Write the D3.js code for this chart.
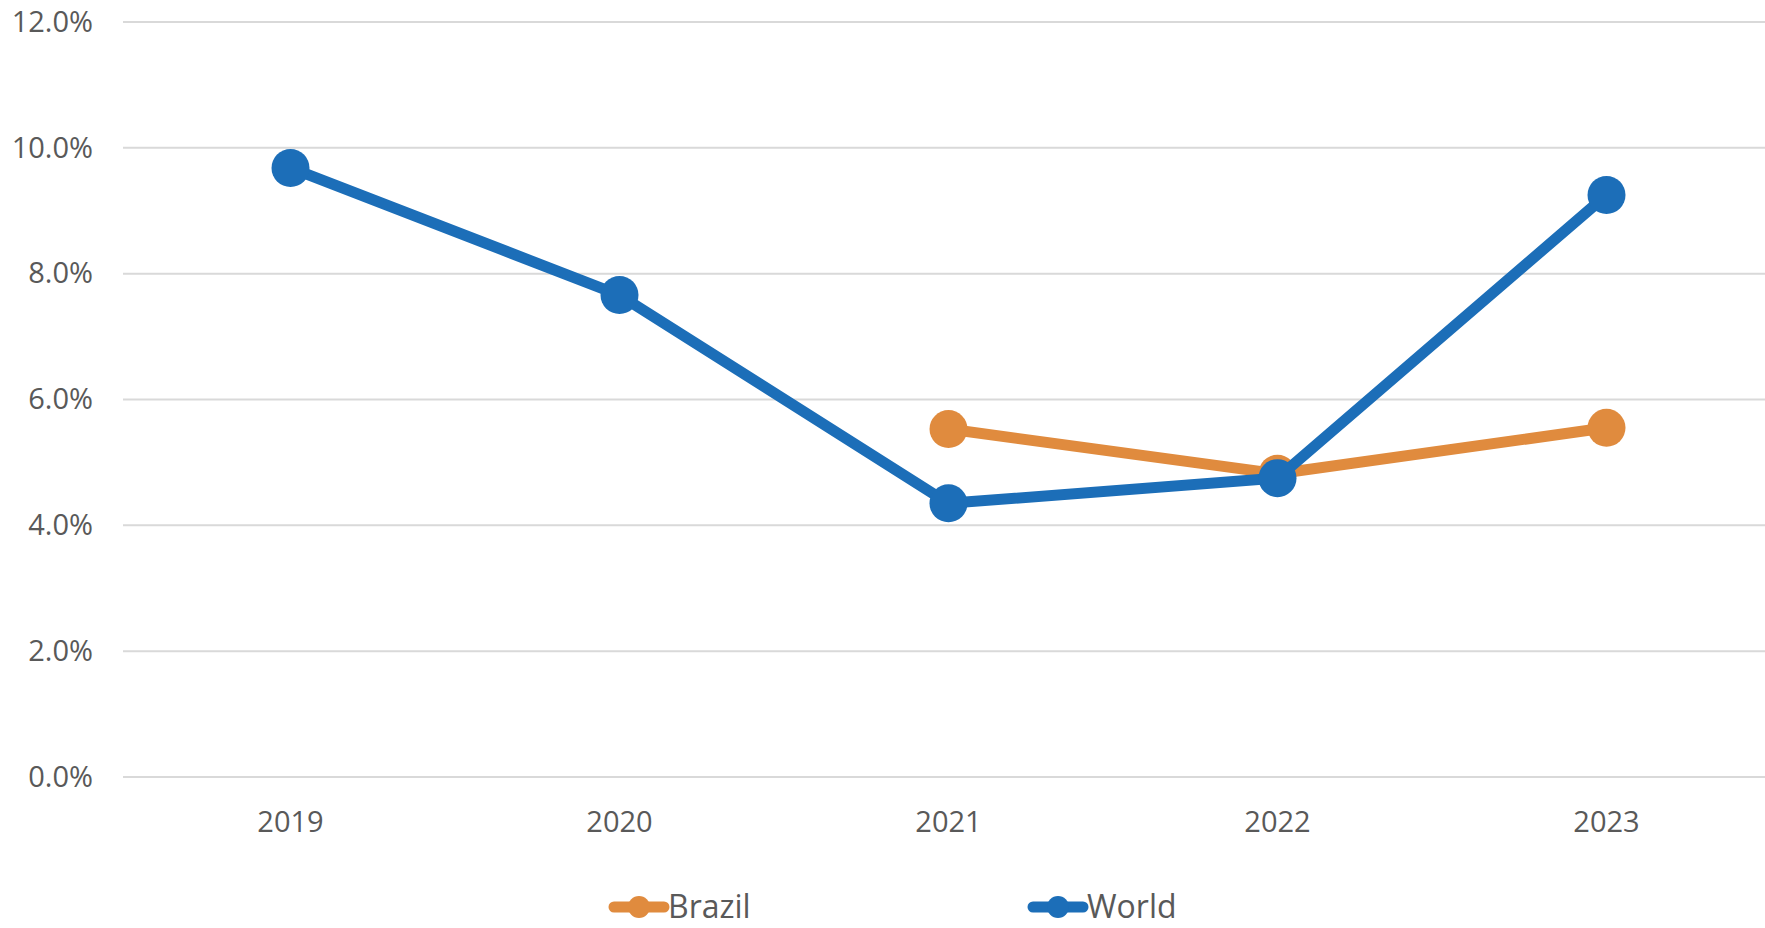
<!DOCTYPE html>
<html><head><meta charset="utf-8">
<script src="https://cdn.jsdelivr.net/npm/d3@7"></script>
<style>body{margin:0;background:#fff;}svg{display:block;}</style>
</head><body>
<script>
const years = ["2019","2020","2021","2022","2023"];
const worldValues = [9.68, 7.66, 4.35, 4.75, 9.25];
const brazilValues = [null, null, 5.53, 4.82, 5.55];
const yTicks = [0, 2, 4, 6, 8, 10, 12];
const seriesNames = ["Brazil", "World"];
const seriesColors = ["#e08b3e", "#1c6eb8"];

const W = 1765, H = 928;
const svg = d3.select("body").append("svg").attr("width", W).attr("height", H);
const font = "'Open Sans', sans-serif";
const textColor = "#595959";

const x = d3.scaleBand().domain(years).range([126, 1771]);
const y = d3.scaleLinear().domain([0, 12]).range([777, 22]);

// gridlines
svg.append("g").selectAll("line").data(yTicks).join("line")
  .attr("x1", 123).attr("x2", W)
  .attr("y1", d => y(d)).attr("y2", d => y(d))
  .attr("stroke", "#d9d9d9").attr("stroke-width", 2);

// y axis
const yAxis = svg.append("g").attr("transform", "translate(103,0)")
  .call(d3.axisLeft(y).tickValues(yTicks).tickSize(0).tickPadding(10).tickFormat(d => d3.format(".1f")(d) + "%"));
yAxis.select(".domain").remove();
yAxis.selectAll("text").attr("font-family", font).attr("font-size", 29).attr("fill", textColor);

// x axis
const xAxis = svg.append("g").attr("transform", "translate(0,801)")
  .call(d3.axisBottom(x).tickSize(0).tickPadding(10));
xAxis.select(".domain").remove();
xAxis.selectAll("text").attr("font-family", font).attr("font-size", 29).attr("fill", textColor);

const cx = d => x(d) + x.bandwidth() / 2;
const series = [
  {name: seriesNames[0], color: seriesColors[0], values: brazilValues},
  {name: seriesNames[1], color: seriesColors[1], values: worldValues}
];

const line = d3.line().defined(d => d.v != null).x(d => cx(d.year)).y(d => y(d.v));

series.forEach(s => {
  const pts = years.map((yr, i) => ({year: yr, v: s.values[i]}));
  svg.append("path").datum(pts).attr("d", line)
    .attr("fill", "none").attr("stroke", s.color).attr("stroke-width", 11)
    .attr("stroke-linejoin", "round");
  svg.append("g").selectAll("circle").data(pts.filter(d => d.v != null)).join("circle")
    .attr("cx", d => cx(d.year)).attr("cy", d => y(d.v)).attr("r", 19)
    .attr("fill", s.color);
});

// legend
const legendX = [610, 1029];
series.forEach((s, i) => {
  const g = svg.append("g").attr("transform", `translate(${legendX[i]},907)`);
  g.append("line").attr("x1", 4).attr("x2", 54).attr("y1", 0).attr("y2", 0)
    .attr("stroke", s.color).attr("stroke-width", 11).attr("stroke-linecap", "round");
  g.append("circle").attr("cx", 29).attr("cy", 0).attr("r", 11).attr("fill", s.color);
  g.append("text").attr("x", 58).attr("y", 0).attr("dy", "0.35em")
    .attr("font-family", font).attr("font-size", 32).attr("fill", textColor).text(s.name);
});
</script>
</body></html>
